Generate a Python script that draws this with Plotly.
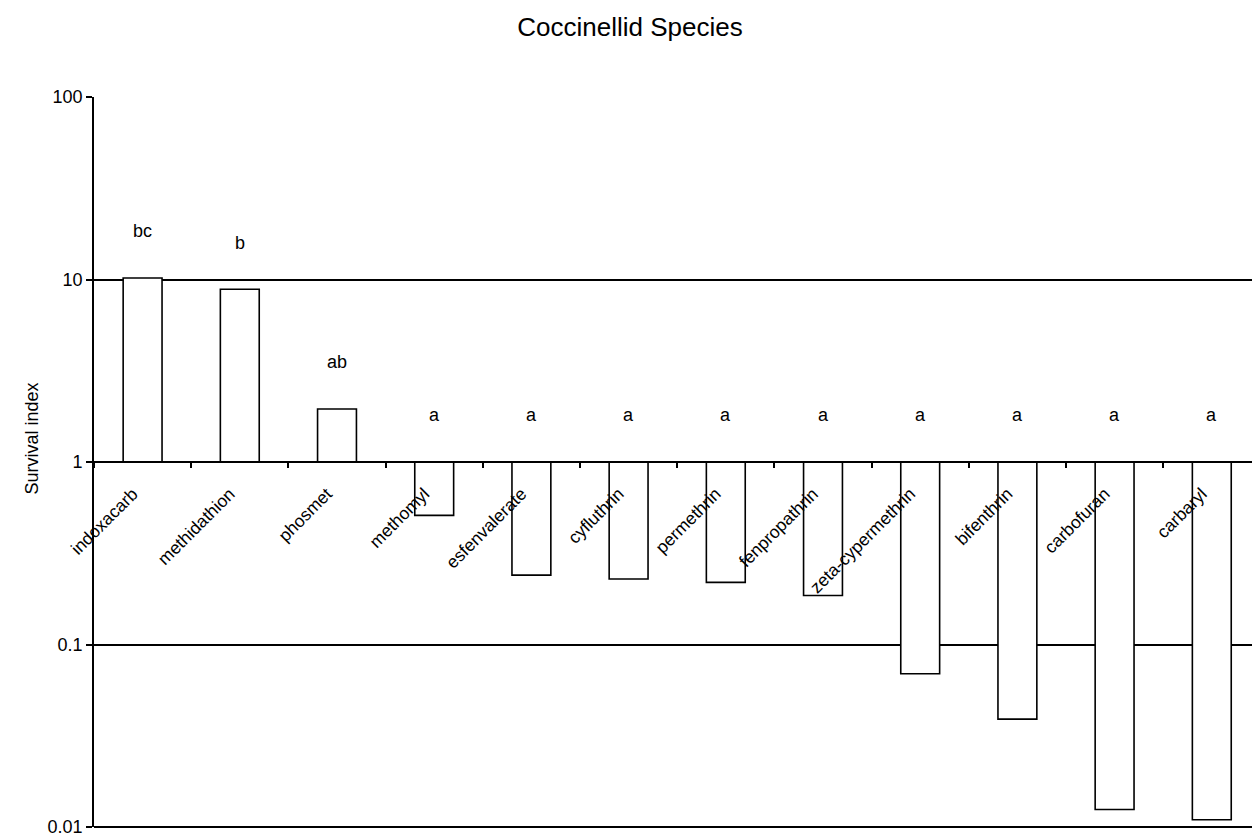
import math
import plotly.graph_objects as go

categories = ["indoxacarb", "methidathion", "phosmet", "methomyl", "esfenvalerate",
              "cyfluthrin", "permethrin", "fenpropathrin", "zeta-cypermethrin",
              "bifenthrin", "carbofuran", "carbaryl"]
survival = [10.2, 8.84, 1.95, 0.51, 0.240, 0.2285, 0.219, 0.1854, 0.0691, 0.0390, 0.01248, 0.01096]
letters = ["bc", "b", "ab", "a", "a", "a", "a", "a", "a", "a", "a", "a"]
tick_vals = [0.01, 0.1, 1, 10, 100]
tick_text = ["0.01", "0.1", "1", "10", "100"]

FONT = "Liberation Sans, Arial, sans-serif"
BASE = 1.0

fig = go.Figure()
fig.add_trace(go.Bar(
    x=categories,
    y=[v - BASE for v in survival],
    base=[BASE] * len(survival),
    width=0.4,
    marker=dict(color="white", line=dict(color="black", width=1.6)),
    showlegend=False,
    hoverinfo="skip",
))

for c, v, t in zip(categories, survival, letters):
    fig.add_annotation(x=c, y=math.log10(max(v, BASE) * 1.8), text=t, showarrow=False,
                       font=dict(family=FONT, size=18, color="black"),
                       xref="x", yref="y")

W, H = 1252, 837
L, T, B = 94, 97, 7
plot_w = W - L
plot_h = H - T - B

# y-axis title (paper coords are relative to the plot area)
fig.add_annotation(x=(32 - L) / plot_w, y=(H - B - 440) / plot_h, xref="paper", yref="paper",
                   xanchor="center", yanchor="middle",
                   text="Survival index", textangle=-90, showarrow=False,
                   font=dict(family=FONT, size=18, color="black"))

# bottom frame line at the 0.01 level
fig.add_shape(type="line", xref="paper", yref="paper", x0=0, x1=1, y0=0, y1=0,
              line=dict(color="black", width=2), layer="above")

cat_px = 97.2
fig.update_layout(
    width=W, height=H,
    margin=dict(l=L, r=0, t=T, b=B),
    paper_bgcolor="white", plot_bgcolor="white",
    title=dict(text="Coccinellid Species", x=630 / W, xanchor="center", y=1 - 27 / H,
               yanchor="middle", font=dict(family=FONT, size=26, color="black")),
    font=dict(family=FONT, size=18, color="black"),
    xaxis=dict(
        type="category",
        range=[-0.5, -0.5 + plot_w / cat_px],
        anchor="free", position=0.5,
        showline=True, linecolor="black", linewidth=1.6,
        ticks="outside", tickson="boundaries", ticklen=5, tickcolor="black", tickwidth=1.6,
        tickangle=-45, showgrid=False,
        tickfont=dict(family=FONT, size=17.5, color="black"),
        ticklabelstandoff=14, ticklabelshift=-10,
    ),
    yaxis=dict(
        type="log", range=[-2, 2],
        tickvals=tick_vals, ticktext=tick_text,
        showgrid=True, gridcolor="black", gridwidth=1.6,
        showline=True, linecolor="black", linewidth=1.6,
        ticks="outside", ticklen=6, tickcolor="black", tickwidth=1.6,
        tickfont=dict(family=FONT, size=18, color="black"),
        ticklabeloverflow="allow",
        zeroline=False,
    ),
)

fig.write_html("out.html", config={"displayModeBar": False},
               post_script="document.body.style.margin='0';document.body.style.overflow='hidden';")
